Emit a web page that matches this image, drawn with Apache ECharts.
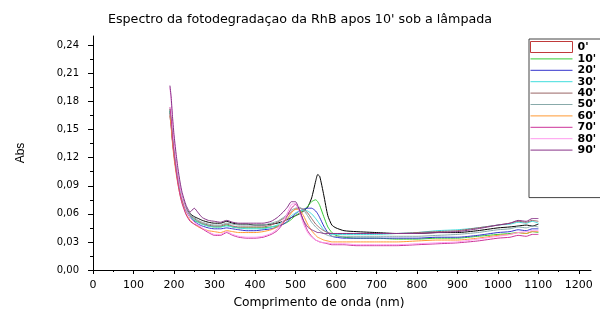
<!DOCTYPE html>
<html>
<head>
<meta charset="utf-8">
<script src="https://cdn.jsdelivr.net/npm/echarts@6.0.0/dist/echarts.min.js"></script>
<style>
  html, body { margin: 0; padding: 0; background: #fff; }
  #main { width: 600px; height: 309px; }
</style>
</head>
<body>
<div id="main"></div>
<script>
// comprimento de onda (nm)
var wl = [190,193,196,200,205,210,215,220,230,240,250,260,270,285,300,315,330,345,360,380,400,420,440,455,470,480,490,500,510,520,530,540,550,555,560,570,580,590,600,620,650,700,750,800,850,900,950,1000,1030,1050,1070,1085,1100];

// absorbancia de cada tempo
var s0 = [.170,.158,.142,.126,.110,.097,.086,.078,.066,.060,.057,.055,.053,.051,.050,.050,.052,.050,.049,.049,.048,.048,.049,.050,.052,.054,.056,.058,.060,.063,.067,.077,.095,.102,.100,.080,.058,.048,.045,.042,.041,.040,.039,.039,.040,.040,.042,.045,.046,.047,.048,.047,.049];
var s10 = [.172,.160,.144,.127,.110,.096,.085,.076,.064,.057,.053,.051,.049,.047,.046,.046,.048,.046,.045,.045,.045,.045,.046,.047,.049,.051,.054,.058,.061,.064,.068,.073,.075,.073,.069,.057,.046,.040,.037,.035,.034,.034,.033,.033,.034,.034,.036,.038,.039,.040,.039,.041,.040];
var s20 = [.165,.154,.139,.123,.107,.094,.083,.075,.063,.056,.052,.049,.047,.045,.044,.044,.045,.044,.043,.042,.042,.043,.044,.046,.049,.052,.056,.060,.063,.065,.066,.066,.063,.060,.056,.047,.040,.036,.035,.034,.034,.034,.034,.034,.035,.035,.037,.040,.041,.043,.042,.044,.044];
var s30 = [.170,.158,.142,.125,.109,.095,.084,.076,.064,.057,.054,.051,.049,.047,.046,.046,.047,.046,.045,.044,.044,.044,.046,.048,.052,.055,.058,.061,.063,.064,.063,.060,.055,.052,.049,.043,.040,.038,.038,.038,.038,.038,.039,.040,.042,.043,.045,.048,.049,.051,.050,.052,.050];
var s40 = [.168,.156,.140,.124,.108,.094,.083,.075,.064,.058,.055,.052,.050,.048,.047,.047,.049,.047,.046,.046,.046,.046,.048,.051,.055,.058,.062,.065,.066,.065,.061,.055,.049,.047,.045,.042,.040,.039,.039,.039,.039,.039,.039,.040,.041,.042,.045,.048,.050,.052,.051,.053,.052];
var s50 = [.172,.160,.144,.127,.111,.097,.086,.078,.066,.059,.056,.053,.051,.049,.048,.048,.050,.049,.048,.048,.048,.048,.050,.052,.056,.060,.064,.066,.067,.064,.058,.051,.046,.044,.042,.039,.037,.036,.036,.036,.036,.036,.036,.036,.037,.038,.040,.043,.044,.046,.045,.047,.046];
var s60 = [.165,.153,.137,.120,.104,.091,.080,.072,.060,.053,.049,.046,.044,.042,.041,.040,.042,.041,.040,.040,.040,.041,.043,.046,.051,.055,.061,.065,.064,.058,.049,.042,.037,.035,.034,.032,.031,.030,.030,.030,.030,.030,.030,.031,.032,.032,.034,.037,.038,.040,.039,.041,.041];
var s70 = [.174,.162,.144,.125,.107,.092,.080,.071,.059,.052,.049,.047,.044,.040,.037,.037,.040,.037,.035,.034,.034,.035,.038,.042,.050,.058,.066,.070,.064,.052,.042,.036,.032,.031,.030,.029,.028,.027,.027,.027,.026,.026,.026,.027,.028,.029,.031,.034,.035,.037,.036,.038,.038];
var s80 = [.195,.182,.162,.140,.120,.103,.089,.078,.064,.056,.051,.048,.045,.041,.038,.038,.041,.038,.036,.035,.035,.036,.039,.044,.053,.061,.070,.071,.062,.049,.040,.035,.032,.031,.030,.029,.029,.028,.028,.028,.027,.027,.027,.028,.029,.030,.033,.036,.038,.040,.041,.042,.042];
var s90 = [.197,.185,.166,.145,.125,.108,.094,.083,.069,.062,.066,.061,.056,.053,.052,.051,.053,.051,.050,.050,.050,.050,.052,.056,.062,.067,.073,.073,.064,.053,.046,.043,.041,.040,.040,.039,.039,.039,.039,.039,.039,.039,.039,.039,.040,.041,.044,.048,.050,.053,.052,.055,.055];

var names = ["0'", "10'", "20'", "30'", "40'", "50'", "60'", "70'", "80'", "90'"];
var values = [s0, s10, s20, s30, s40, s50, s60, s70, s80, s90];
var colors = ['#000000', '#33cc33', '#3333cc', '#40dddd', '#996666', '#88aaaa', '#ff9933', '#cc3399', '#ff99ee', '#883388'];

var xTicks = [0,100,200,300,400,500,600,700,800,900,1000,1100,1200];
var yTicks = [0,0.03,0.06,0.09,0.12,0.15,0.18,0.21,0.24];

var series = names.map(function (n, k) {
  return {
    name: n,
    type: 'line',
    symbol: 'none',
    smooth: 0.2,
    lineStyle: { width: 1, color: colors[k] },
    itemStyle: { color: colors[k] },
    data: wl.map(function (w, i) { return [w, values[k][i]]; })
  };
});

// legenda: so a linha, sem o simbolo (menos o 0' que tem a caixa)
var legendData = names.map(function (n) { return { name: n }; });
legendData[0] = { name: "0'", icon: 'rect', itemStyle: { opacity: 1, color: 'rgba(255,255,255,0)', borderColor: '#c03a3a', borderWidth: 1 } };

var option = {
  animation: false,
  backgroundColor: '#fff',
  title: {
    text: "Espectro da fotodegradaçao da RhB apos 10' sob a lâmpada",
    left: 'center',
    top: 8,
    textStyle: { fontFamily: 'DejaVu Sans', fontSize: 12.7, fontWeight: 'normal', color: '#000' }
  },
  legend: {
    orient: 'vertical',
    left: 529,
    top: 39,
    data: legendData,
    itemWidth: 42,
    itemHeight: 11,
    itemGap: 0.4,
    padding: [2, 40, 42, 1],
    borderColor: '#444',
    borderWidth: 1,
    backgroundColor: '#fff',
    itemStyle: { opacity: 0 },
    lineStyle: { width: 1 },
    textStyle: { fontFamily: 'DejaVu Sans', fontSize: 11, fontWeight: 'bold', color: '#000', lineHeight: 11 }
  },
  grid: { left: 93, right: 9, top: 36, bottom: 39, outerBoundsMode: 'none', containLabel: false },
  xAxis: {
    type: 'value',
    min: 0,
    max: 1230,
    interval: 100,
    name: 'Comprimento de onda (nm)',
    nameLocation: 'middle',
    nameGap: 27,
    nameTextStyle: { fontFamily: 'DejaVu Sans', fontSize: 12.3, color: '#000', padding: [0, 46, 0, 0] },
    axisLine: { lineStyle: { color: '#000', width: 1 } },
    axisTick: { length: 4, customValues: xTicks, lineStyle: { color: '#000' } },
    minorTick: { show: true, splitNumber: 2, length: 2, lineStyle: { color: '#000' } },
    axisLabel: {
      customValues: xTicks,
      margin: 10,
      fontFamily: 'DejaVu Sans',
      fontSize: 11,
      color: '#000',
      formatter: function (v) { return String(v); }
    },
    splitLine: { show: false }
  },
  yAxis: {
    type: 'value',
    min: 0,
    max: 0.25,
    interval: 0.03,
    name: 'Abs',
    nameLocation: 'middle',
    nameGap: 66,
    nameTextStyle: { fontFamily: 'Liberation Sans', fontSize: 12, color: '#000' },
    axisLine: { show: true, lineStyle: { color: '#000', width: 1 } },
    axisTick: { show: true, length: 5, customValues: yTicks, lineStyle: { color: '#000' } },
    minorTick: { show: true, splitNumber: 2, length: 3, lineStyle: { color: '#000' } },
    axisLabel: {
      customValues: yTicks,
      margin: 14,
      fontFamily: 'DejaVu Sans',
      fontSize: 10,
      color: '#000',
      formatter: function (v) { return v.toFixed(2).replace('.', ','); }
    },
    splitLine: { show: false }
  },
  series: series
};

var myChart = echarts.init(document.getElementById('main'));
myChart.setOption(option);
</script>
</body>
</html>
